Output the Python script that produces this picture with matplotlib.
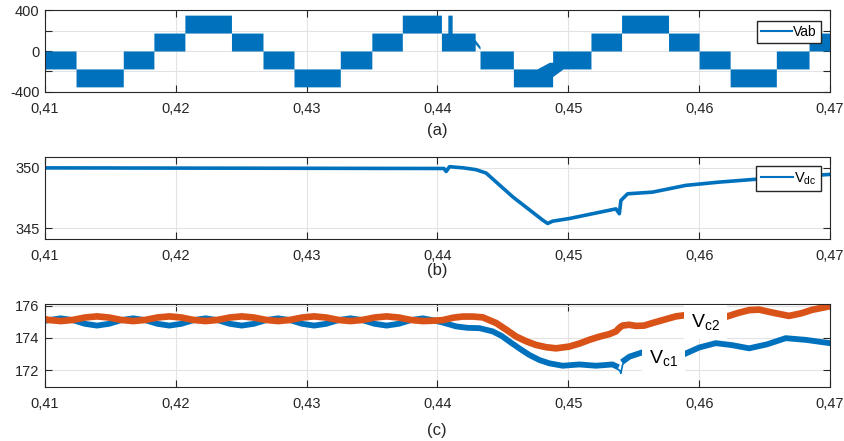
import numpy as np
import matplotlib
matplotlib.use('Agg')
import matplotlib.pyplot as plt
from matplotlib.lines import Line2D
from matplotlib.ticker import FuncFormatter

plt.rcParams['font.family'] = ['Liberation Sans', 'DejaVu Sans']
plt.rcParams['axes.unicode_minus'] = False

blue = '#0072BD'
orange = '#D95319'
dark = '#262626'

# (a) Vab - edges of the PWM band (lower / upper envelope)
vab_t = [0.41, 0.41237, 0.41237, 0.41598, 0.41598, 0.41832, 0.41832, 0.42069, 0.42069,
         0.42425, 0.42425, 0.42666, 0.42666, 0.42903, 0.42903, 0.43257, 0.43257, 0.43498,
         0.43498, 0.43731, 0.43731, 0.44030, 0.44030, 0.44079, 0.44079, 0.44112, 0.44112,
         0.44288, 0.44288, 0.44325, 0.44325, 0.44580, 0.44580, 0.44760, 0.44855, 0.44880,
         0.44880, 0.44960, 0.45173, 0.45173, 0.45407, 0.45407, 0.45766, 0.45766, 0.46000,
         0.46000, 0.46237, 0.46237, 0.46590, 0.46590, 0.46840, 0.46840, 0.47]
vab_lo = [-175, -175, -350, -350, -175, -175, 0, 0, 175,
          175, 0, 0, -175, -175, -350, -350, -175, -175,
          0, 0, 175, 175, 0, 0, 0, 0, 0,
          0, 70, 15, -175, -175, -350, -350, -350, -350,
          -250, -175, -175, 0, 0, 175, 175, 0, 0,
          -175, -175, -350, -350, -175, -175, 0, 0]
vab_hi = [0, 0, -175, -175, 0, 0, 175, 175, 350,
          350, 175, 175, 0, 0, -175, -175, 0, 0,
          175, 175, 350, 350, 175, 175, 350, 350, 175,
          175, 110, 45, 0, 0, -175, -175, -110, -110,
          0, 0, 0, 175, 175, 350, 350, 175, 175,
          0, 0, -175, -175, 0, 0, 175, 175]

# (b) Vdc
vdc_t = [0.41, 0.4405, 0.44066, 0.44092, 0.4420, 0.44295, 0.44372, 0.44575, 0.44804,
         0.44842, 0.4488, 0.45008, 0.45186, 0.45364, 0.4539, 0.45402, 0.45453, 0.45644,
         0.45898, 0.46153, 0.46483, 0.47]
vdc = [350.0, 349.95, 349.7, 350.1, 350.0, 349.85, 349.57, 347.6, 345.67,
       345.39, 345.58, 345.8, 346.2, 346.6, 346.2, 347.3, 347.85, 347.99,
       348.55, 348.82, 349.1, 349.46]

# (c) capacitor voltages, steady ripple then transient
vc_t = [0.41, 0.41028, 0.41120, 0.41212, 0.41305, 0.41397, 0.41489, 0.41582,
        0.41674, 0.41766, 0.41858, 0.41950, 0.42042, 0.42135,
        0.42227, 0.42319, 0.42412, 0.42504, 0.42596, 0.42689,
        0.42781, 0.42873, 0.42965, 0.43057, 0.43149, 0.43242,
        0.43334, 0.43426, 0.43519, 0.43611, 0.43703, 0.43795, 0.43887]
vc2_ss = [175.16, 175.11, 175.04, 175.11, 175.26, 175.33, 175.26, 175.11,
          175.04, 175.11, 175.26, 175.33, 175.26, 175.11,
          175.04, 175.11, 175.26, 175.33, 175.26, 175.11,
          175.04, 175.11, 175.26, 175.33, 175.26, 175.11,
          175.04, 175.11, 175.26, 175.33, 175.26, 175.11, 175.04]
vc1_ss = [175.05, 175.10, 175.21, 175.10, 174.87, 174.76, 174.87, 175.10,
          175.21, 175.10, 174.87, 174.76, 174.87, 175.10,
          175.21, 175.10, 174.87, 174.76, 174.87, 175.10,
          175.21, 175.10, 174.87, 174.76, 174.87, 175.10,
          175.21, 175.10, 174.87, 174.76, 174.87, 175.10, 175.21]

vc2_tr_t = [0.43960, 0.44040, 0.44120, 0.44193, 0.44270, 0.44346, 0.44448, 0.44530, 0.44601,
            0.44680, 0.44753, 0.44830, 0.44906, 0.45008, 0.45090, 0.45160, 0.45240, 0.45313,
            0.45364, 0.45390, 0.45414, 0.45466, 0.45517, 0.45580, 0.45644, 0.45730,
            0.45822, 0.45924, 0.4606, 0.46204, 0.46300, 0.46382, 0.46458, 0.46570, 0.46687,
            0.46780, 0.46865, 0.47]
vc2_tr = [175.06, 175.10, 175.25, 175.32, 175.32, 175.27, 174.92, 174.48, 174.08,
          173.78, 173.56, 173.42, 173.35, 173.46, 173.66, 173.875, 174.08, 174.23,
          174.40, 174.62, 174.76, 174.81, 174.74, 174.76, 174.92, 175.12,
          175.33, 175.44, 175.35, 175.30, 175.55, 175.72, 175.75, 175.55, 175.36,
          175.52, 175.74, 175.96]

vc1_tr_t = [0.43960, 0.44040, 0.44143, 0.44230, 0.44321, 0.44422, 0.44490, 0.4455, 0.44630,
            0.44702, 0.44780, 0.44855, 0.44957, 0.45084, 0.45211, 0.45338, 0.45364, 0.4539,
            0.45427, 0.45466, 0.4558, 0.4572, 0.45873, 0.46000, 0.46127, 0.46250, 0.46382,
            0.46520, 0.46662, 0.46814, 0.47]
vc1_tr = [175.10, 174.95, 174.71, 174.62, 174.60, 174.40, 174.12, 173.77, 173.32,
          172.94, 172.62, 172.42, 172.27, 172.35, 172.27, 172.35, 172.25, np.nan,
          172.60, 172.83, 173.14, 173.10, 172.94, 173.40, 173.67, 173.55, 173.35,
          173.60, 173.98, 173.875, 173.67]
vc1_dip_t = [0.45350, 0.45395, 0.45402, 0.45414, 0.45430]
vc1_dip = [172.25, 171.95, 171.8, 172.3, 172.6]

xticks = [0.41, 0.42, 0.43, 0.44, 0.45, 0.46, 0.47]

fig = plt.figure(figsize=(8.45, 4.41), dpi=100)
ax1 = fig.add_axes([0.0533, 0.7914, 0.9289, 0.1859])
ax2 = fig.add_axes([0.0533, 0.4580, 0.9289, 0.1859])
ax3 = fig.add_axes([0.0533, 0.1224, 0.9289, 0.1883])

comma = FuncFormatter(lambda v, p: f'{v:.2f}'.replace('.', ','))

for ax in (ax1, ax2, ax3):
    ax.set_xlim(0.41, 0.47)
    ax.set_xticks(xticks)
    ax.xaxis.set_major_formatter(comma)
    ax.grid(True, color='#e3e3e3', lw=0.8)
    ax.set_axisbelow(True)
    ax.tick_params(direction='in', length=5, width=0.8, colors=dark, labelsize=10.5,
                   top=True, right=True, pad=7)
    ax.tick_params(axis='y', pad=4)
    for s in ax.spines.values():
        s.set_color(dark)
        s.set_linewidth(0.8)

# (a)
ax1.fill_between(vab_t, vab_lo, vab_hi, color=blue, lw=0)
ax1.set_ylim(-400, 400)
ax1.set_yticks([-400, -200, 0, 200, 400])
ax1.set_yticklabels(['-400', '', '0', '', '400'])
ax1.legend(handles=[Line2D([], [], color=blue, lw=1.5)], labels=['Vab'],
           loc='upper right', bbox_to_anchor=(0.9885, 0.866), borderaxespad=0,
           fancybox=False, edgecolor=dark, framealpha=1, fontsize=10,
           handlelength=2.2, handletextpad=0.1, borderpad=0.3)

# (b)
ax2.plot(vdc_t, vdc, color=blue, lw=2.6)
ax2.set_ylim(344.1, 350.9)
ax2.set_yticks([345, 350])
ax2.legend(handles=[Line2D([], [], color=blue, lw=1.5)],
           labels=[r'$\mathregular{V_{dc}}$'],
           loc='upper right', bbox_to_anchor=(0.9885, 0.89), borderaxespad=0,
           fancybox=False, edgecolor=dark, framealpha=1, fontsize=10.5,
           handlelength=2.2, handletextpad=0.1, borderpad=0.3)

# (c)
ax3.plot(vc_t + vc1_tr_t, vc1_ss + vc1_tr, color=blue, lw=4.2, solid_joinstyle='round')
ax3.plot(vc1_dip_t, vc1_dip, color=blue, lw=1.2)
ax3.plot(vc_t + vc2_tr_t, vc2_ss + vc2_tr, color=orange, lw=4.8, solid_joinstyle='round')
ax3.set_ylim(170.95, 176.1)
ax3.set_yticks([172, 174, 176])

box = dict(facecolor='white', edgecolor='none', boxstyle='square,pad=0.35')
ax3.text(0.45939, 175.0, r'$\mathregular{V_{c2}}$', fontsize=14, ha='left', va='center',
         bbox=box, clip_on=False, zorder=10)
ax3.text(0.45618, 172.75, r'$\mathregular{V_{c1}}$', fontsize=14, ha='left', va='center',
         bbox=box, clip_on=False, zorder=10)

fig.text(0.517, 0.703, '(a)', ha='center', va='center', fontsize=12, color=dark)
fig.text(0.517, 0.3855, '(b)', ha='center', va='center', fontsize=12, color=dark)
fig.text(0.517, 0.0227, '(c)', ha='center', va='center', fontsize=12, color=dark)

fig.savefig('out.png', dpi=100)
